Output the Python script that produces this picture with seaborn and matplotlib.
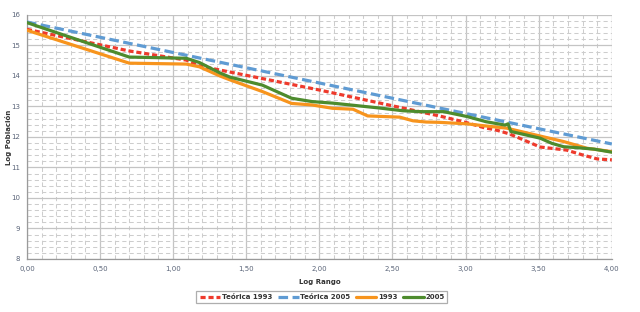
import matplotlib
matplotlib.use("Agg")
import matplotlib.pyplot as plt
import matplotlib.ticker as mticker
import seaborn as sns
import pandas as pd

# ── Data ──
x_teo_2005 = [0.00, 4.00]
y_teo_2005 = [15.77, 11.77]

x_teo_1993 = [0.00, 0.70, 1.09, 1.18, 2.00, 2.82, 3.00, 3.13, 3.20, 3.30, 3.51, 3.69, 3.80, 3.90, 4.00]
y_teo_1993 = [15.53, 14.82, 14.52, 14.33, 13.54, 12.69, 12.48, 12.30, 12.24, 12.10, 11.67, 11.57, 11.41, 11.28, 11.25]

x_1993 = [0.00, 0.70, 1.09, 1.18, 1.32, 1.39, 1.61, 1.81, 1.95, 2.09, 2.23, 2.33, 2.55, 2.64,
          2.73, 2.82, 3.01, 3.14, 3.28, 3.51, 3.67, 3.83, 4.00]
y_1993 = [15.50, 14.42, 14.39, 14.30, 14.00, 13.87, 13.49, 13.10, 13.05, 12.94, 12.91, 12.69, 12.65, 12.53,
          12.49, 12.48, 12.43, 12.36, 12.29, 12.03, 11.85, 11.63, 11.52]

x_2005 = [0.00, 0.70, 1.09, 1.18, 1.32, 1.39, 1.61, 1.81, 1.95, 2.09, 2.41, 2.57, 2.69, 2.85,
          3.01, 3.14, 3.27, 3.29, 3.31, 3.51, 3.59, 3.67, 3.76, 3.88, 4.00]
y_2005 = [15.75, 14.62, 14.58, 14.44, 14.10, 13.96, 13.70, 13.27, 13.16, 13.11, 12.95, 12.86, 12.83, 12.83,
          12.67, 12.50, 12.39, 12.43, 12.18, 11.96, 11.79, 11.68, 11.65, 11.60, 11.50]

labels = ["Teórica 1993", "Teórica 2005", "1993", "2005"]

sns.set_style("white")
plt.rcParams['font.family'] = ['Liberation Sans Narrow', 'DejaVu Sans']

fig = plt.figure(figsize=(6.4, 3.12), dpi=100)
ax = fig.add_axes([0.042, 0.17, 0.914, 0.782])

# ── Grid ──
ax.set_xlim(0, 4)
ax.set_ylim(8, 16)
ax.xaxis.set_major_locator(mticker.MultipleLocator(0.5))
ax.xaxis.set_minor_locator(mticker.MultipleLocator(0.1))
ax.yaxis.set_major_locator(mticker.MultipleLocator(1))
ax.yaxis.set_minor_locator(mticker.MultipleLocator(0.2))
ax.grid(which='major', color='#c4c4c4', lw=0.9, zorder=0)
ax.grid(which='minor', color='#cdcdcd', lw=0.75, ls=(0, (4, 3)), zorder=0)
ax.set_axisbelow(True)

# ── Lines ──
series = [
    (x_teo_1993, y_teo_1993, '#ee3a2c', (1.6, 0.9)),
    (x_teo_2005, y_teo_2005, '#5f9bd3', (3.0, 1.4)),
    (x_1993, y_1993, '#f7941d', None),
    (x_2005, y_2005, '#4d8b2d', None),
]
for (xs, ys, col, dash), lab in zip(series, labels):
    df = pd.DataFrame({"x": xs, "y": ys})
    sns.lineplot(data=df, x="x", y="y", ax=ax, color=col, lw=2.3, sort=False,
                 label=lab, legend=False, zorder=3)
    if dash:
        ax.lines[-1].set_dashes(dash)

# ── Axes styling ──
for s in ['top', 'right']:
    ax.spines[s].set_visible(False)
for s in ['left', 'bottom']:
    ax.spines[s].set_color('#9a9a9a')
    ax.spines[s].set_linewidth(0.9)
ax.tick_params(which='major', length=3, width=0.8, color='#9a9a9a', labelsize=5,
               labelcolor='#5a6478', pad=2)
ax.tick_params(which='minor', length=0)
ax.xaxis.set_major_formatter(mticker.FuncFormatter(lambda v, p: f"{v:.2f}".replace('.', ',')))
ax.set_xlabel("Log Rango", fontsize=5, fontweight='bold', color='#333333', labelpad=5)
ax.set_ylabel("Log Población", fontsize=5, fontweight='bold', color='#333333')
ax.yaxis.set_label_coords(-0.026, 0.5)

# ── Legend ──
handles = ax.lines[:4]
leg = fig.legend(handles, labels, loc='center', bbox_to_anchor=(0.503, 0.048), ncol=4,
                 frameon=True, fancybox=False, edgecolor='#9a9a9a', fontsize=5,
                 handlelength=3.0, columnspacing=0.8, handletextpad=0.2, borderpad=0.45)
leg.get_frame().set_linewidth(0.9)
for t in leg.get_texts():
    t.set_fontweight('bold')
    t.set_color('#333333')

fig.savefig("out.png", dpi=100)
